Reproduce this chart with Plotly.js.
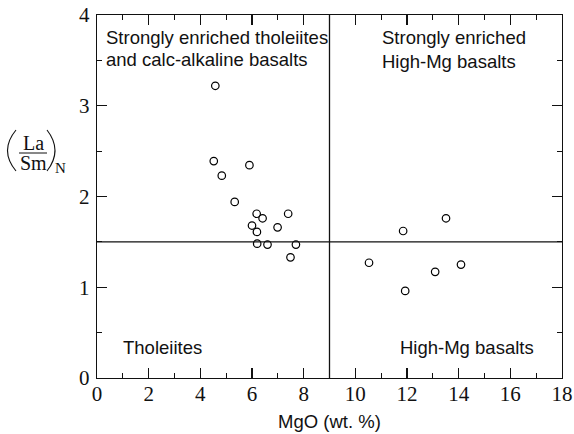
<!DOCTYPE html>
<html><head><meta charset="utf-8">
<script src="https://cdn.plot.ly/plotly-3.0.1.min.js"></script>
<style>html,body{margin:0;padding:0;background:#fff}#chart{width:574px;height:434px}</style>
</head><body><div id="chart"></div>
<script>
// Data
const mgo = [4.58, 4.52, 5.90, 4.83, 5.33, 6.18, 6.41, 7.40, 6.00, 6.99, 6.19, 6.20, 6.60, 7.70, 7.49,
             10.53, 11.85, 13.51, 13.09, 14.09, 11.93];
const laSmN = [3.22, 2.39, 2.345, 2.23, 1.94, 1.81, 1.76, 1.81, 1.68, 1.66, 1.61, 1.48, 1.47, 1.47, 1.33,
               1.27, 1.62, 1.76, 1.17, 1.25, 0.96];
const mgoDivide = 9;
const ratioDivide = 1.5;
const xTicks = [0, 2, 4, 6, 8, 10, 12, 14, 16, 18];
const yTicks = [0, 1, 2, 3, 4];
const fieldLabels = [
  {text: 'Strongly enriched tholeiites', x: 0.28, y: 3.75},
  {text: 'and calc-alkaline basalts', x: 0.28, y: 3.51},
  {text: 'Strongly enriched', x: 10.95, y: 3.75},
  {text: 'High-Mg basalts', x: 10.95, y: 3.49},
  {text: 'Tholeiites', x: 0.92, y: 0.34},
  {text: 'High-Mg basalts', x: 11.66, y: 0.34}
];

const L = 97, T = 15, W = 465, H = 363;
const px = v => (v - L) / W;        // pixel x -> paper x
const py = v => (T + H - v) / H;    // pixel y -> paper y

const trace = {
  x: mgo, y: laSmN, type: 'scatter', mode: 'markers',
  marker: {symbol: 'circle-open', size: 7.5, color: '#000', line: {width: 1.2, color: '#000'}},
  hoverinfo: 'x+y', showlegend: false, cliponaxis: false
};

const sans = 'Liberation Sans, Arial, sans-serif';
const serif = 'Liberation Serif, Times New Roman, serif';

const annotations = fieldLabels.map(f => ({
  text: f.text, x: f.x, y: f.y, xref: 'x', yref: 'y', xanchor: 'left', yanchor: 'middle',
  showarrow: false, font: {family: sans, size: 18.5, color: '#111'}
}));
annotations.push(
  {text: 'La', xref: 'paper', yref: 'paper', x: px(33), y: py(143), xanchor: 'center', yanchor: 'middle',
   showarrow: false, borderpad: 0, font: {family: serif, size: 20, color: '#111'}},
  {text: 'Sm', xref: 'paper', yref: 'paper', x: px(33), y: py(163), xanchor: 'center', yanchor: 'middle',
   showarrow: false, borderpad: 0, font: {family: serif, size: 20, color: '#111'}},
  {text: 'N', xref: 'paper', yref: 'paper', x: px(60.5), y: py(168), xanchor: 'center', yanchor: 'middle',
   showarrow: false, borderpad: 0, font: {family: serif, size: 15, color: '#111'}}
);

const shapes = [
  {type: 'line', xref: 'x', yref: 'paper', x0: mgoDivide, x1: mgoDivide, y0: 0, y1: 1, line: {color: '#111', width: 1.3}},
  {type: 'line', xref: 'paper', yref: 'y', x0: 0, x1: 1, y0: ratioDivide, y1: ratioDivide, line: {color: '#111', width: 1.3}},
  // fraction bar and parentheses of the y title
  {type: 'line', xref: 'paper', yref: 'paper', x0: px(19), x1: px(47), y0: py(153), y1: py(153), line: {color: '#111', width: 1}},
  {type: 'path', xref: 'paper', yref: 'paper',
   path: `M ${px(16)},${py(130)} Q ${px(-1)},${py(150.5)} ${px(16)},${py(171)}`, line: {color: '#111', width: 1.1}},
  {type: 'path', xref: 'paper', yref: 'paper',
   path: `M ${px(47)},${py(130)} Q ${px(63)},${py(150.5)} ${px(47)},${py(171)}`, line: {color: '#111', width: 1.1}}
];

const axisCommon = {
  showgrid: false, zeroline: false, showline: true, linecolor: '#111', linewidth: 1.3,
  mirror: 'allticks', ticks: 'inside', ticklen: 10, tickwidth: 1.2, tickcolor: '#111',
  tickfont: {family: serif, size: 21, color: '#111'}
};

const layout = {
  width: 574, height: 434,
  margin: {l: L, r: 574 - L - W, t: T, b: 434 - T - H},
  paper_bgcolor: '#fff', plot_bgcolor: '#fff',
  xaxis: Object.assign({}, axisCommon, {
    range: [0, 18], tickmode: 'array', tickvals: xTicks, ticktext: xTicks.map(String),
    minor: {dtick: 1, ticks: 'inside', ticklen: 5, tickwidth: 1.2, tickcolor: '#111'},
    ticklabelstandoff: -4,
    title: {text: 'MgO (wt. %)', font: {family: sans, size: 18.5, color: '#111'}, standoff: 10}
  }),
  yaxis: Object.assign({}, axisCommon, {
    range: [0, 4], tickmode: 'array', tickvals: yTicks, ticktext: yTicks.map(String),
    minor: {dtick: 0.5, ticks: 'inside', ticklen: 5, tickwidth: 1.2, tickcolor: '#111'},
    ticklabelstandoff: 2
  }),
  annotations: annotations,
  shapes: shapes
};

Plotly.newPlot('chart', [trace], layout, {displayModeBar: false, staticPlot: true});
</script></body></html>
